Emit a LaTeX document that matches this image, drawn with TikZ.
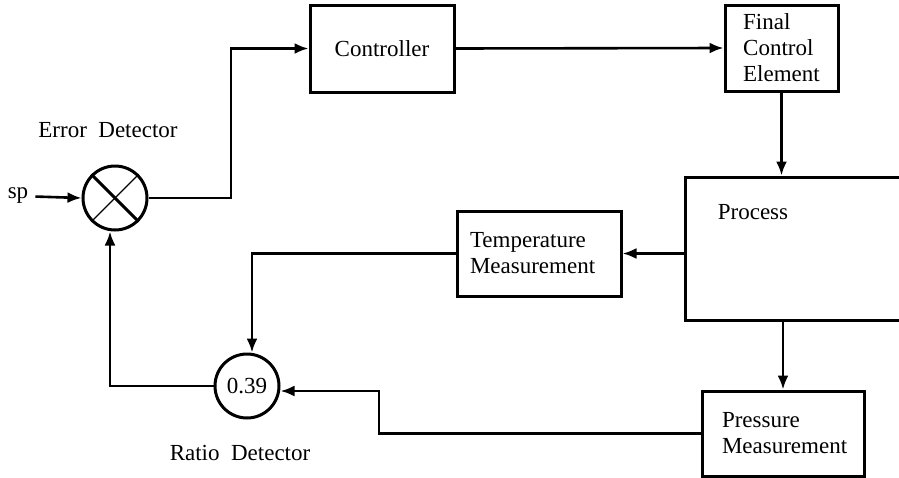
\documentclass[tikz,border=0pt]{standalone}
\usepackage{fontspec}
\setmainfont{Liberation Serif}
\usetikzlibrary{arrows.meta, positioning, calc}

\begin{document}
\begin{tikzpicture}[
  x=0.5pt, y=-0.5pt,
  every node/.style={font=\fontsize{11.5}{13}\selectfont},
  blk/.style={draw, line width=1.5pt, rectangle, inner sep=0pt},
  sum/.style={draw, line width=1.5pt, circle, minimum size=32pt, inner sep=0pt},
  arr/.style={line width=1.3pt, -{Latex[length=7pt, width=5.5pt]}},
  ln/.style={line width=1.3pt}
]
  \useasboundingbox (0,0) rectangle (899,477);

  % blocks
  \node[blk, minimum width=72pt, minimum height=43.5pt] (ctrl) at (382,48.5) {Controller};
  \node[blk, minimum width=56.5pt, minimum height=43pt, align=left] (fce) at (781.5,48) {Final\\Control\\Element};
  \node[blk, minimum width=120pt, minimum height=71.5pt] (proc) at (805,248.5) {};
  \node (proctxt) at (753,212) {Process};
  \node[blk, minimum width=82pt, minimum height=42.5pt, text width=69pt, inner xsep=6.5pt, align=left] (temp) at (539,253.5) {Temperature\\Measurement};
  \node[blk, minimum width=81pt, minimum height=42.5pt, text width=61pt, inner xsep=10pt, align=left] (pres) at (783,433.5) {Pressure\\Measurement};

  % detectors
  \node[sum] (err) at (115,198) {};
  \draw[line width=1.5pt] (err.135) -- (err.-45);
  \draw[line width=0.6pt] (err.45) -- (err.-135);
  \node[sum] (ratio) at (247,386) {0.39};
  \node (errtxt) at (108,130) {Error\ \ Detector};
  \node (ratiotxt) at (240,453) {Ratio\ \ Detector};
  \node (sp) at (18,196) {sp};

  % connectors
  \coordinate (c1) at (231,198);
  \coordinate (c2) at (379,420);
  \draw[arr] (sp) -- (err.west);
  \draw[arr] (err.east) -- (c1) |- (ctrl.west);
  \draw[arr] (ctrl.east) -- (fce.west);
  \draw[arr] (fce.south) -- (fce.south |- proc.north);
  \draw[arr] (proc.west |- temp.east) -- (temp.east);
  \draw[arr] (pres.north |- proc.south) -- (pres.north);
  \draw[arr] (temp.west) -| ([xshift=2.5pt]ratio.north);
  \draw[arr] (pres.west) -| (c2) |- ([yshift=-2.5pt]ratio.east);
  \draw[arr] (ratio.west) -| ([xshift=-2.5pt]err.south);
\end{tikzpicture}
\end{document}
